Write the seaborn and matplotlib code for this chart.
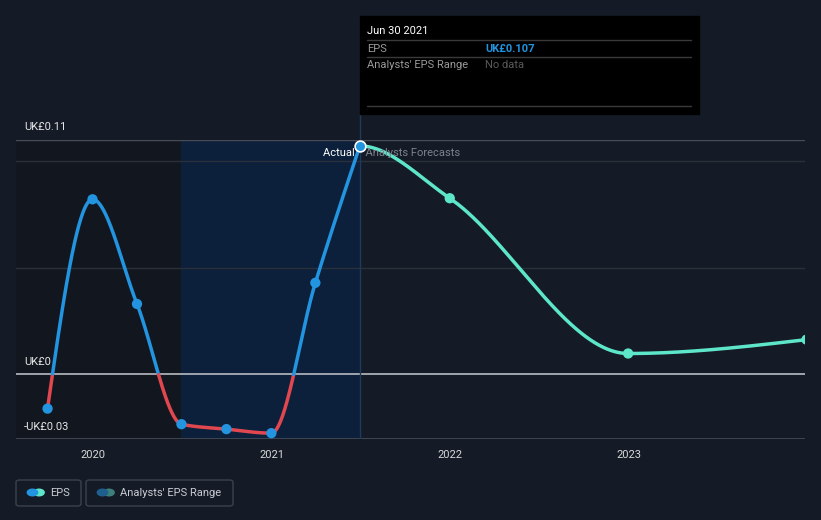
import numpy as np
import pandas as pd
import matplotlib
matplotlib.use("Agg")
import matplotlib.pyplot as plt
import matplotlib.dates as mdates
from matplotlib.patches import FancyBboxPatch, Rectangle, Circle
import seaborn as sns

# ---------------- data ----------------
actual_dates = ["2019-09-30", "2019-12-31", "2020-03-31", "2020-06-30",
                "2020-09-30", "2020-12-31", "2021-03-31", "2021-06-30"]
actual_eps = [-0.016, 0.082, 0.033, -0.0233, -0.0256, -0.0275, 0.0429, 0.107]
forecast_dates = ["2021-06-30", "2021-12-31", "2022-12-31", "2023-12-31"]
forecast_eps = [0.107, 0.0825, 0.0098, 0.0163]
year_ticks = ["2020-01-01", "2021-01-01", "2022-01-01", "2023-01-01"]
year_labels = ["2020", "2021", "2022", "2023"]
y_labels = {0.11: "UK£0.11", 0.0: "UK£0", -0.03: "-UK£0.03"}

BG = "#151b26"
BLUE = "#2394df"
RED = "#e0474f"
TEAL = "#5de6c9"

sns.set_style("dark")
plt.rcParams["font.family"] = ["Roboto", "DejaVu Sans"]


def monotone(x, y, xs, start_slope=None):
    """d3 curveMonotoneX style interpolation (for drawing only)."""
    x = np.asarray(x, float); y = np.asarray(y, float)
    n = len(x)
    h = np.diff(x); d = np.diff(y) / h
    m = np.zeros(n)
    for k in range(1, n - 1):
        s0, s1 = d[k - 1], d[k]
        p = (s0 * h[k] + s1 * h[k - 1]) / (h[k - 1] + h[k])
        m[k] = (np.sign(s0) + np.sign(s1)) * min(abs(s0), abs(s1), 0.5 * abs(p))
    if n > 2:
        m[0] = (3 * d[0] - m[1]) / 2
        m[-1] = (3 * d[-1] - m[-2]) / 2
    else:
        m[0] = m[-1] = d[0]
    if start_slope is not None:
        m[0] = start_slope
    out = np.empty_like(xs)
    idx = np.clip(np.searchsorted(x, xs) - 1, 0, n - 2)
    for i, xv in enumerate(xs):
        k = idx[i]
        t = (xv - x[k]) / h[k]
        h00 = 2 * t**3 - 3 * t**2 + 1
        h10 = t**3 - 2 * t**2 + t
        h01 = -2 * t**3 + 3 * t**2
        h11 = t**3 - t**2
        out[i] = h00 * y[k] + h10 * h[k] * m[k] + h01 * y[k + 1] + h11 * h[k] * m[k + 1]
    return out


ax_x = mdates.date2num(pd.to_datetime(actual_dates))
fc_x = mdates.date2num(pd.to_datetime(forecast_dates))

W, H = 821, 520
fig = plt.figure(figsize=(W / 100, H / 100), dpi=100, facecolor=BG)
ax = fig.add_axes([16 / W, 1 - 438.5 / H, (805 - 16) / W, (438.5 - 139.5) / H])
ax.set_facecolor(BG)

x_left = mdates.date2num(pd.Timestamp("2020-01-01")) - 77 / 178.5 * 365.25
x_right = mdates.date2num(pd.Timestamp("2020-01-01")) + 712 / 178.5 * 365.25
ax.set_xlim(x_left, x_right)
ax.set_ylim(-0.03, 0.11)

# shaded regions
jun20 = mdates.date2num(pd.Timestamp("2020-06-30"))
jun21 = mdates.date2num(pd.Timestamp("2021-06-30"))
ax.axvspan(x_left, jun20, color="#12171f", zorder=0, lw=0)
ax.axvspan(jun20, jun21, color="#0c1f3b", zorder=0, lw=0)

# grid lines
for yv in [0.1, 0.05]:
    ax.axhline(yv, color="#2a3039", lw=1, zorder=1)
ax.axhline(0.11, color="#474c56", lw=1, zorder=1)
ax.axhline(-0.03, color="#474c56", lw=1.2, zorder=1)
ax.axhline(0.0, color="#b8bcc2", lw=1.2, zorder=1)

# actual curve, split by sign into contiguous segments
xs = np.linspace(ax_x[0], ax_x[-1], 3000)
ys = monotone(ax_x, actual_eps, xs)
sign = ys >= 0
breaks = np.where(np.diff(sign.astype(int)) != 0)[0]
starts = np.concatenate([[0], breaks + 1])
ends = np.concatenate([breaks + 1, [len(xs) - 1]])
for s0, e0 in zip(starts, ends):
    seg_x = xs[s0:e0 + 1]
    seg_y = ys[s0:e0 + 1]
    col = BLUE if sign[s0] else RED
    sns.lineplot(x=seg_x, y=seg_y, ax=ax, color=col, lw=2.5, zorder=3,
                 sort=False, estimator=None)

# forecast curve (starts flat at the peak of the actual series)
fxs = np.linspace(fc_x[0], fc_x[-1], 3000)
fys = monotone(fc_x, forecast_eps, fxs, start_slope=0.0)
sns.lineplot(x=fxs, y=fys, ax=ax, color=TEAL, lw=2.5, zorder=3,
             sort=False, estimator=None)

sns.scatterplot(x=ax_x[:-1], y=actual_eps[:-1], ax=ax, color=BLUE, s=55,
                edgecolor="none", zorder=4)
sns.scatterplot(x=fc_x[1:], y=forecast_eps[1:], ax=ax, color=TEAL, s=55,
                edgecolor="none", zorder=4)
sns.scatterplot(x=[ax_x[-1]], y=[actual_eps[-1]], ax=ax, color=BLUE, s=60,
                edgecolor="white", linewidth=1.2, zorder=5)

# vertical hover line
ax.axvline(jun21, color="#1f3a5c", lw=1, zorder=2)
fig.add_artist(plt.Line2D([360 / W, 360 / W], [1 - 139 / H, 1 - 114 / H],
                          color="#1f3a5c", lw=1))

ax.text(jun21, 0.1035, "Actual  ", color="white", fontsize=8, ha="right",
        va="center", zorder=6)
ax.text(jun21, 0.1035, "  Analysts Forecasts", color="#7d838c", fontsize=8,
        ha="left", va="center", zorder=6)

# y labels
for yv, lab in y_labels.items():
    ax.annotate(lab, xy=(x_left, yv), xytext=(8, 7), textcoords="offset pixels",
                color="#e6e6e6", fontsize=8, ha="left", va="bottom")

# x ticks
ax.set_xticks(mdates.date2num(pd.to_datetime(year_ticks)))
ax.set_xticklabels(year_labels, color="#d8d8d8", fontsize=8)
ax.tick_params(axis="x", length=4, color="#474c56", pad=4)
ax.set_yticks([])
ax.set_xlabel(""); ax.set_ylabel("")
for s in ax.spines.values():
    s.set_visible(False)
ax.grid(False)
if ax.get_legend():
    ax.get_legend().remove()

# tooltip
def fx(px):
    return px / W

def fy(py):
    return 1 - py / H

fig.add_artist(Rectangle((fx(360), fy(114)), fx(699) - fx(360), fy(16) - fy(114),
                         transform=fig.transFigure, color="black", zorder=10))
for py in [40, 57, 106]:
    fig.add_artist(plt.Line2D([fx(367), fx(691)], [fy(py), fy(py)], color="#3a3a3a",
                              lw=1, zorder=11))
fig.text(fx(367), fy(31), "Jun 30 2021", color="white", fontsize=8, va="center", zorder=12)
fig.text(fx(367), fy(48.5), "EPS", color="#9a9a9a", fontsize=8, va="center", zorder=12)
fig.text(fx(485), fy(48.5), "UK£0.107", color=BLUE, fontsize=8, fontweight="bold",
         va="center", zorder=12)
fig.text(fx(367), fy(65.5), "Analysts' EPS Range", color="#9a9a9a", fontsize=8,
         va="center", zorder=12)
fig.text(fx(485), fy(65.5), "No data", color="#5a5a5a", fontsize=8, va="center", zorder=12)

# legend
def legend_box(x0, x1, c1, c2, label):
    fig.add_artist(FancyBboxPatch((fx(x0), fy(506)), fx(x1) - fx(x0), fy(480) - fy(506),
                                  boxstyle="round,pad=0,rounding_size=0.004",
                                  transform=fig.transFigure, facecolor=BG,
                                  edgecolor="#3c424c", lw=1))
    cy = 492.5
    fig.add_artist(Circle((fx(x0 + 23), fy(cy)), 5.2 / W, transform=fig.transFigure,
                          color=c2, zorder=3))
    fig.add_artist(Circle((fx(x0 + 16.5), fy(cy)), 5.2 / W, transform=fig.transFigure,
                          color=c1, zorder=4))
    fig.text(fx(x0 + 34), fy(cy), label, color="#c8ccd2", fontsize=8, va="center")

legend_box(16, 81, BLUE, TEAL, "EPS")
legend_box(86, 233, "#1f5f8f", "#3e7f7c", "Analysts' EPS Range")

fig.savefig("out.png", dpi=100, facecolor=BG)
